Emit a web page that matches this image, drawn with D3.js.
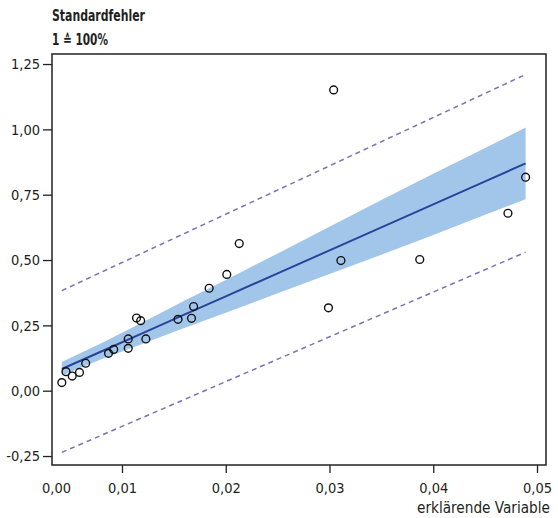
<!DOCTYPE html>
<html>
<head>
<meta charset="utf-8">
<script src="https://cdn.jsdelivr.net/npm/d3@7"></script>
<style>
  body { margin: 0; background: #fff; }
  svg text { font-family: "Liberation Sans Narrow", "DejaVu Sans Condensed", sans-serif; fill: #231f20; }
</style>
</head>
<body>
<svg id="chart" width="558" height="518"></svg>
<script>
// observed points (erklärende Variable, Standardfehler)
const xs = [0.0042, 0.0046, 0.0052, 0.0059, 0.0065, 0.0087, 0.0092, 0.0106, 0.0106, 0.0114,
            0.0118, 0.0123, 0.0154, 0.0167, 0.0169, 0.0184, 0.0201, 0.0213, 0.0304, 0.0299,
            0.0311, 0.0387, 0.0472, 0.0489];
const ys = [0.031, 0.073, 0.056, 0.070, 0.105, 0.143, 0.158, 0.198, 0.162, 0.278,
            0.268, 0.198, 0.273, 0.277, 0.322, 0.392, 0.445, 0.563, 1.151, 0.317,
            0.498, 0.502, 0.679, 0.817];

// fitted line and confidence band
const bandX = [0.0042, 0.008, 0.012, 0.016, 0.020, 0.025, 0.030, 0.035, 0.040, 0.045, 0.0489];
const fitY  = [0.083, 0.150, 0.220, 0.291, 0.361, 0.449, 0.537, 0.625, 0.713, 0.801, 0.870];
const bandHi = [0.110, 0.182, 0.262, 0.344, 0.424, 0.525, 0.627, 0.730, 0.830, 0.929, 1.007];
const bandLo = [0.058, 0.120, 0.180, 0.240, 0.298, 0.373, 0.447, 0.520, 0.596, 0.673, 0.733];

// prediction interval (dashed)
const predX  = [0.0042, 0.0489];
const predHi = [0.383, 1.210];
const predLo = [-0.236, 0.530];

const xTicks = [0.01, 0.02, 0.03, 0.04, 0.05];
const yTicks = [-0.25, 0, 0.25, 0.5, 0.75, 1.0, 1.25];

const svg = d3.select("#chart");
const m = { left: 52, right: 546, top: 54, bottom: 465 };

const de = d3.formatLocale({ decimal: ",", thousands: ".", grouping: [3], currency: ["", " €"], minus: "-" });
const fmt = de.format(".2f");

const x = d3.scaleLinear().domain([0.003253, 0.050867]).range([m.left, m.right]);
const y = d3.scaleLinear().domain([-0.2843, 1.2884]).range([m.bottom, m.top]);

// band
const band = bandX.map((v, i) => ({ x: v, lo: bandLo[i], hi: bandHi[i] }));
svg.append("path")
  .datum(band)
  .attr("fill", "#a2c6ea")
  .attr("d", d3.area().x(d => x(d.x)).y0(d => y(d.lo)).y1(d => y(d.hi)));

// prediction lines
[predHi, predLo].forEach(arr => {
  svg.append("path")
    .datum(predX.map((v, i) => [v, arr[i]]))
    .attr("fill", "none")
    .attr("stroke", "#7d70b4")
    .attr("stroke-width", 1.5)
    .attr("stroke-dasharray", "5,4")
    .attr("d", d3.line().x(d => x(d[0])).y(d => y(d[1])));
});

// fit line
svg.append("path")
  .datum(bandX.map((v, i) => [v, fitY[i]]))
  .attr("fill", "none")
  .attr("stroke", "#26449a")
  .attr("stroke-width", 2)
  .attr("d", d3.line().x(d => x(d[0])).y(d => y(d[1])));

// points
svg.selectAll("circle.pt")
  .data(xs.map((v, i) => [v, ys[i]]))
  .enter()
  .append("circle")
  .attr("class", "pt")
  .attr("cx", d => x(d[0]))
  .attr("cy", d => y(d[1]))
  .attr("r", 3.9)
  .attr("fill", "none")
  .attr("stroke", "#111")
  .attr("stroke-width", 1.4);

// frame
svg.append("rect")
  .attr("x", m.left).attr("y", m.top)
  .attr("width", m.right - m.left).attr("height", m.bottom - m.top)
  .attr("fill", "none")
  .attr("stroke", "#222")
  .attr("stroke-width", 1.5);

// axes
const gy = svg.append("g")
  .attr("transform", `translate(${m.left},0)`)
  .call(d3.axisLeft(y).tickValues(yTicks).tickFormat(fmt).tickSize(9).tickPadding(3));
gy.select(".domain").remove();

const gx = svg.append("g")
  .attr("transform", `translate(0,${m.bottom})`)
  .call(d3.axisBottom(x).tickValues([x.domain()[0], ...xTicks]).tickFormat(fmt).tickSize(8).tickPadding(10));
gx.select(".domain").remove();
gx.selectAll(".tick").filter((d, i) => i === 0).select("line").remove();
gx.selectAll(".tick").filter((d, i) => i === 0).select("text").attr("dx", 4);

svg.selectAll(".tick line").attr("stroke", "#222").attr("stroke-width", 1.3);
svg.selectAll(".tick text").attr("font-size", 14.5).attr("fill", "#231f20");

// titles
svg.append("text").attr("x", 52).attr("y", 21)
  .attr("font-size", 15).attr("font-weight", "bold")
  .attr("textLength", 93).attr("lengthAdjust", "spacingAndGlyphs")
  .text("Standardfehler");
svg.append("text").attr("x", 52).attr("y", 45)
  .attr("font-size", 15).attr("font-weight", "bold")
  .attr("textLength", 56).attr("lengthAdjust", "spacingAndGlyphs")
  .text("1 ≙ 100%");
svg.append("text").attr("x", 550).attr("y", 513)
  .attr("text-anchor", "end").attr("font-size", 15)
  .attr("textLength", 133).attr("lengthAdjust", "spacingAndGlyphs")
  .text("erklärende Variable");
</script>
</body>
</html>
